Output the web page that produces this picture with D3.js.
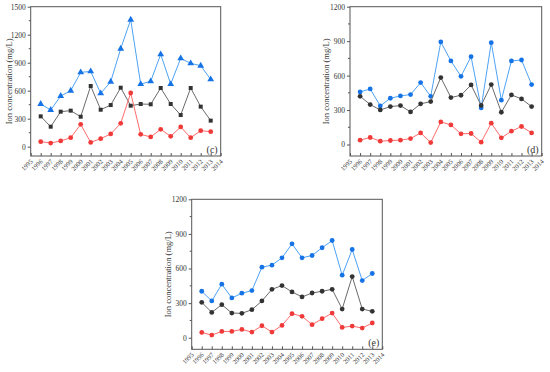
<!DOCTYPE html>
<html>
<head>
<meta charset="utf-8">
<script src="https://cdn.jsdelivr.net/npm/d3@7"></script>
<style>
  body { margin: 0; background: #fff; }
  svg text { font-family: "Liberation Serif", "DejaVu Serif", serif; fill: #333; }
</style>
</head>
<body>
<div id="container"></div>
<script>
const years = d3.range(1996, 2014);
const yearTicks = d3.range(1995, 2015);

// panel (c)
const cBlue = [457, 393, 543, 600, 796, 807, 571, 696, 1050, 1361, 671, 700, 989, 671, 946, 893, 868, 721];
const cBlack = [325, 214, 375, 386, 321, 650, 396, 446, 632, 439, 457, 454, 629, 457, 339, 629, 429, 279];
const cRed = [54, 39, 61, 96, 239, 46, 86, 136, 250, 575, 132, 104, 186, 111, 211, 96, 171, 161];

// panel (d)
const dBlue = [458, 484, 336, 403, 423, 435, 539, 420, 893, 728, 594, 765, 319, 887, 386, 728, 736, 522];
const dBlack = [420, 348, 301, 330, 339, 284, 354, 374, 583, 409, 429, 519, 340, 522, 281, 432, 397, 330];
const dRed = [38, 61, 29, 35, 38, 52, 101, 17, 197, 171, 93, 96, 20, 186, 58, 116, 157, 101];

// panel (e)
const eBlue = [403, 319, 464, 345, 386, 409, 612, 629, 693, 814, 693, 713, 780, 843, 542, 765, 496, 557];
const eBlack = [307, 220, 287, 214, 212, 243, 319, 420, 452, 397, 354, 388, 403, 420, 249, 530, 249, 229];
const eRed = [46, 23, 55, 55, 72, 49, 104, 49, 107, 209, 186, 113, 165, 214, 90, 101, 84, 128];

const cTicks = [0, 300, 600, 900, 1200, 1500];
const deTicks = [0, 300, 600, 900, 1200];

const colors = {
    blue: {line: '#4da3f5', mark: '#1673e6'},
    black: {line: '#6b6b6b', mark: '#333333'},
    red: {line: '#ff6b6b', mark: '#f03a3a'},
};

const width = 550, height = 372;

const svg = d3.select('#container')
    .append('svg')
    .attr('width', width)
    .attr('height', height);

const drawPanel = (p) => {
    const x = d3.scaleLinear().domain([1995, 2014]).range([p.left, p.right]);
    const y = d3.scaleLinear().domain([-100, p.max]).range([p.bottom, p.top]);
    const g = svg.append('g');

    // frame
    g.append('rect')
        .attr('x', p.left)
        .attr('y', p.top)
        .attr('width', p.right - p.left)
        .attr('height', p.bottom - p.top)
        .attr('fill', 'none')
        .attr('stroke', '#555')
        .attr('stroke-width', 1);

    // left axis
    const yAxis = g.append('g')
        .attr('transform', `translate(${p.left},0)`)
        .call(d3.axisLeft(y).tickValues(p.ticks).tickFormat(d3.format('d')).tickSize(3).tickPadding(2));
    yAxis.select('.domain').remove();
    yAxis.selectAll('.tick line').attr('stroke', '#555');
    yAxis.selectAll('.tick text')
        .style('font-size', '7.5px')
        .style('fill', '#333')
        .style('font-family', '"Liberation Serif", serif');

    // minor y ticks
    g.selectAll('.ymin')
        .data(p.ticks.map(t => t + 150).filter(t => t < p.max))
        .join('line')
        .attr('x1', p.left - 2)
        .attr('x2', p.left)
        .attr('y1', d => y(d))
        .attr('y2', d => y(d))
        .attr('stroke', '#555');

    // bottom axis
    const xAxis = g.append('g')
        .attr('transform', `translate(0,${p.bottom})`)
        .call(d3.axisBottom(x).tickValues(yearTicks).tickSizeInner(-3).tickSizeOuter(0).tickFormat(d3.format('d')));
    xAxis.select('.domain').remove();
    xAxis.selectAll('.tick line').attr('stroke', '#555');
    xAxis.selectAll('.tick text')
        .attr('text-anchor', 'end')
        .attr('dy', 0)
        .attr('y', 0)
        .attr('transform', 'translate(2,6) rotate(-45)')
        .style('font-size', '6.5px')
        .style('fill', '#333')
        .style('font-family', '"Liberation Serif", serif');

    // y label
    g.append('text')
        .attr('transform', `translate(${p.labelX},${(p.top + p.bottom) / 2}) rotate(-90)`)
        .attr('text-anchor', 'middle')
        .attr('dominant-baseline', 'middle')
        .style('font-size', '8.5px')
        .text('Ion concentration (mg/L)');

    // panel letter
    g.append('text')
        .attr('x', p.right - 3)
        .attr('y', p.bottom - 3)
        .attr('text-anchor', 'end')
        .style('font-size', '10px')
        .text(p.letter);

    const line = d3.line()
        .x((d, i) => x(years[i]))
        .y(d => y(d));

    p.series.forEach(s => {
        const c = colors[s.color];
        g.append('path')
            .datum(s.values)
            .attr('d', line)
            .attr('fill', 'none')
            .attr('stroke', c.line)
            .attr('stroke-width', 1);

        const sym = d3.symbol().type(s.symbol).size(s.symbol === d3.symbolCircle ? 18 : (s.symbol === d3.symbolSquare ? 16 : 20));
        g.selectAll(null)
            .data(s.values)
            .join('path')
            .attr('transform', (d, i) => `translate(${x(years[i])},${y(d)})`)
            .attr('d', sym)
            .attr('fill', c.mark);
    });
};

drawPanel({
    left: 30.7, right: 220.7, top: 6.7, bottom: 156, max: 1500, ticks: cTicks, labelX: 10, letter: '(c)',
    series: [
        {values: cBlue, color: 'blue', symbol: d3.symbolTriangle},
        {values: cBlack, color: 'black', symbol: d3.symbolSquare},
        {values: cRed, color: 'red', symbol: d3.symbolCircle},
    ]
});

drawPanel({
    left: 350, right: 541.7, top: 6.7, bottom: 156, max: 1200, ticks: deTicks, labelX: 326.7, letter: '(d)',
    series: [
        {values: dBlue, color: 'blue', symbol: d3.symbolCircle},
        {values: dBlack, color: 'black', symbol: d3.symbolCircle},
        {values: dRed, color: 'red', symbol: d3.symbolCircle},
    ]
});

drawPanel({
    left: 191.7, right: 382.3, top: 199.3, bottom: 349.3, max: 1200, ticks: deTicks, labelX: 169, letter: '(e)',
    series: [
        {values: eBlue, color: 'blue', symbol: d3.symbolCircle},
        {values: eBlack, color: 'black', symbol: d3.symbolCircle},
        {values: eRed, color: 'red', symbol: d3.symbolCircle},
    ]
});
</script>
</body>
</html>
